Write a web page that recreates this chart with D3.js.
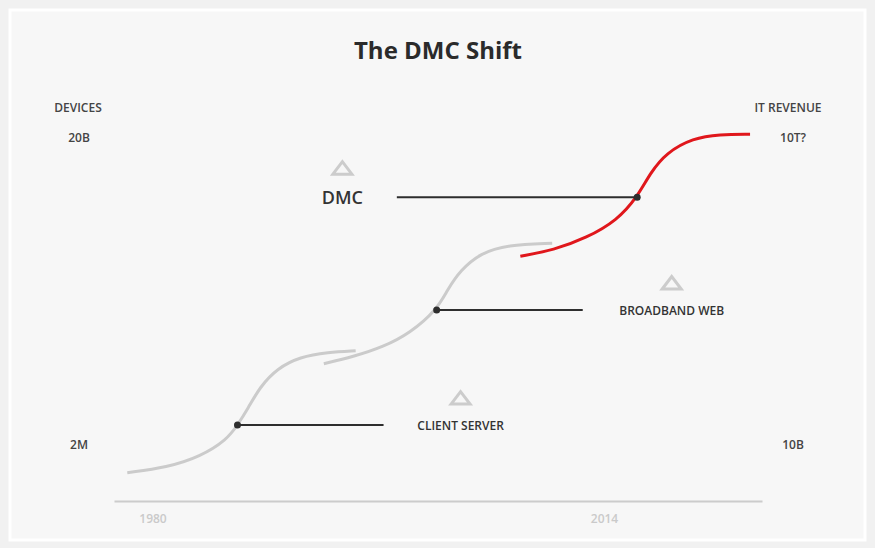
<!DOCTYPE html>
<html>
<head>
<meta charset="utf-8">
<script src="https://cdn.jsdelivr.net/npm/d3@7"></script>
<style>
  html, body { margin: 0; padding: 0; background: #f1f1f1; }
  svg { display: block; font-family: "Open Sans", sans-serif; }
</style>
</head>
<body>
<svg id="chart" width="875" height="548"></svg>
<script>
// years on x, log10(devices) on y
const clientServer = [
  [1978.1, 5.94], [1981.1, 6.01], [1983.6, 6.15], [1985.6, 6.37], [1986.4, 6.56],
  [1987.2, 6.78], [1988.1, 7.06], [1989.4, 7.30], [1991.1, 7.45], [1993.2, 7.51], [1995.3, 7.53]
];
const broadbandWeb = [
  [1992.9, 7.36], [1995.1, 7.45], [1997.4, 7.58], [1999.4, 7.76], [2001.4, 8.06],
  [2002.2, 8.32], [2003.2, 8.58], [2004.7, 8.80], [2006.7, 8.91], [2010.1, 8.93]
];
const dmc = [
  [2007.7, 8.76], [2010.2, 8.84], [2012.7, 9.00], [2015.0, 9.23], [2016.5, 9.53],
  [2017.5, 9.85], [2018.7, 10.11], [2020.7, 10.30], [2022.7, 10.35], [2025.0, 10.35]
];

// inflection markers and leader lines: [year, level, lineFrom, lineTo]
const markers = [
  [1986.4, 6.56, 1986.4, 1997.4],
  [2001.4, 8.06, 2001.4, 2012.4],
  [2016.5, 9.53, 1998.4, 2016.5]
];

// era labels
const eraNames = ["CLIENT SERVER", "BROADBAND WEB", "DMC"];
const eraYears = [2003.2, 2019.1, 1994.3];
const eraLevels = [6.56, 8.06, 9.53];

const yearTicks = [1980, 2014];
const leftTicks = [[6.301, "2M"], [10.301, "20B"]];
const rightTicks = [[6.301, "10B"], [10.301, "10T?"]];

const svg = d3.select('#chart');

// panel
svg.append('rect')
  .attr('x', 10).attr('y', 10)
  .attr('width', 855).attr('height', 530)
  .attr('fill', '#f7f7f7')
  .attr('stroke', '#ffffff')
  .attr('stroke-width', 3);

const x = d3.scaleLinear().domain([1977.1, 2025.9]).range([114, 762]);
const y = d3.scaleLinear().domain([6.301, 10.301]).range([445, 138]);

// title
svg.append('text')
  .attr('x', 438).attr('y', 59)
  .attr('text-anchor', 'middle')
  .attr('font-size', 24)
  .attr('font-weight', 700)
  .attr('fill', '#2b2b2b')
  .text('The DMC Shift');

// axis headers
svg.append('text')
  .attr('x', 78).attr('y', 112)
  .attr('text-anchor', 'middle')
  .attr('font-size', 12).attr('font-weight', 600)
  .attr('fill', '#444')
  .text('DEVICES');

svg.append('text')
  .attr('x', 788).attr('y', 112)
  .attr('text-anchor', 'middle')
  .attr('font-size', 12).attr('font-weight', 600)
  .attr('fill', '#444')
  .text('IT REVENUE');

leftTicks.forEach(([v, label]) => {
  svg.append('text')
    .attr('x', 79).attr('y', y(v))
    .attr('dy', '0.35em')
    .attr('text-anchor', 'middle')
    .attr('font-size', 12).attr('font-weight', 600)
    .attr('fill', '#444')
    .text(label);
});

rightTicks.forEach(([v, label]) => {
  svg.append('text')
    .attr('x', 793).attr('y', y(v))
    .attr('dy', '0.35em')
    .attr('text-anchor', 'middle')
    .attr('font-size', 12).attr('font-weight', 600)
    .attr('fill', '#444')
    .text(label);
});

// bottom axis
const xAxis = svg.append('g')
  .attr('transform', 'translate(0,501)')
  .call(d3.axisBottom(x).tickValues(yearTicks).tickSize(0).tickSizeOuter(0).tickFormat(d3.format('d')).tickPadding(13));

xAxis.select('.domain')
  .attr('stroke', '#cccccc')
  .attr('stroke-width', 2);

xAxis.selectAll('text')
  .attr('font-family', '"Open Sans", sans-serif')
  .attr('font-size', 12)
  .attr('font-weight', 600)
  .attr('fill', '#cacaca');

// curves
const line = d3.line()
  .x(d => x(d[0]))
  .y(d => y(d[1]))
  .curve(d3.curveBasis);

[[clientServer, '#cbcbcb'], [broadbandWeb, '#cbcbcb'], [dmc, '#e0171c']].forEach(([data, color]) => {
  svg.append('path')
    .datum(data)
    .attr('d', line)
    .attr('fill', 'none')
    .attr('stroke', color)
    .attr('stroke-width', 3)
    .attr('stroke-linecap', 'butt');
});

// leader lines and dots
markers.forEach(([yr, lv, from, to]) => {
  svg.append('line')
    .attr('x1', x(from)).attr('x2', x(to))
    .attr('y1', y(lv)).attr('y2', y(lv))
    .attr('stroke', '#2e2e2e')
    .attr('stroke-width', 2);

  svg.append('circle')
    .attr('cx', x(yr)).attr('cy', y(lv))
    .attr('r', 3.5)
    .attr('fill', '#2e2e2e');
});

// era labels with triangles
eraNames.forEach((name, i) => {
  const cx = x(eraYears[i]);
  const cy = y(eraLevels[i]);
  const big = name === 'DMC';
  const triY = big ? cy - 29 : cy - 27;

  svg.append('path')
    .attr('d', `M${cx - 9.5},${triY + 6} L${cx},${triY - 6.5} L${cx + 9.5},${triY + 6} Z`)
    .attr('fill', 'none')
    .attr('stroke', '#cccccc')
    .attr('stroke-width', 3)
    .attr('stroke-linejoin', 'miter');

  svg.append('text')
    .attr('x', cx).attr('y', cy + 1)
    .attr('dy', '0.35em')
    .attr('text-anchor', 'middle')
    .attr('font-size', big ? 18 : 12)
    .attr('font-weight', 600)
    .attr('fill', '#333')
    .text(name);
});
</script>
</body>
</html>
